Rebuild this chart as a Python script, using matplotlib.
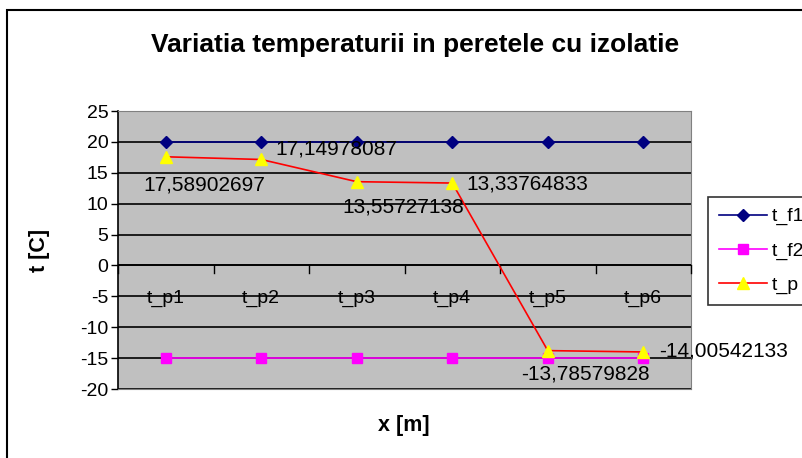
import matplotlib
matplotlib.use("Agg")
import matplotlib.pyplot as plt
from matplotlib.patches import Rectangle

plt.rcParams['font.family'] = ['Liberation Sans', 'DejaVu Sans']
plt.rcParams['axes.unicode_minus'] = False

# date
categorii = ["t_p1", "t_p2", "t_p3", "t_p4", "t_p5", "t_p6"]
t_f1 = [20, 20, 20, 20, 20, 20]
t_f2 = [-15, -15, -15, -15, -15, -15]
t_p = [17.58902697, 17.14978087, 13.55727138, 13.33764833, -13.78579828, -14.00542133]
# pozitia etichetelor (offset in pixeli)
offs = [(39, -28), (75, 10), (47, -25), (75, -1), (38, -23), (80, 1)]

fig = plt.figure(figsize=(8.02, 4.58), dpi=100)
fig.patches.append(Rectangle((7 / 802, -0.1), 1.0, (458 - 10) / 458 + 0.1,
                             transform=fig.transFigure, fill=False,
                             edgecolor='black', linewidth=1.5))
ax = fig.add_axes([118 / 802, (458 - 389) / 458, (691 - 118) / 802, (389 - 111) / 458])
ax.set_facecolor('#C0C0C0')

x = list(range(len(categorii)))
ax.plot(x, t_f1, color='#000080', marker='D', markersize=6, linewidth=1.2, label='t_f1', zorder=4)
ax.plot(x, t_f2, color='#FF00FF', marker='s', markersize=7, linewidth=1.2, label='t_f2', zorder=4)
ax.plot(x, t_p, color='#FF0000', marker='^', markersize=9, markerfacecolor='#FFFF00',
        markeredgecolor='#FFFF00', linewidth=1.2, label='t_p', zorder=5)

for xi, v, o in zip(x, t_p, offs):
    ax.annotate(f"{v:.8f}".replace('.', ','), (xi, v), xytext=o, textcoords='offset pixels',
                ha='center', va='center', fontsize=15, zorder=6, annotation_clip=False)

ax.set_xlim(-0.5, 5.5)
ax.set_ylim(-20, 25)
ax.set_yticks(range(-20, 30, 5))
ax.yaxis.grid(True, color='black', linewidth=1.2)
ax.set_axisbelow(True)
ax.tick_params(axis='y', labelsize=14, length=5, width=1, direction='out', pad=2)

# axa x trece prin 0
ax.set_xticks([])
ax.axhline(0, color='black', linewidth=1.2, zorder=3)
for b in [-0.5, 0.5, 1.5, 2.5, 3.5, 4.5, 5.5]:
    ax.plot([b, b], [0, -1.2], color='black', linewidth=1, zorder=3, clip_on=False)
for xi, c in zip(x, categorii):
    ax.text(xi, -5.3, c, ha='center', va='center', fontsize=14, zorder=6)

for s in ['top', 'right', 'bottom']:
    ax.spines[s].set_color('#808080')
ax.spines['left'].set_color('black')
ax.spines['left'].set_linewidth(1.2)

fig.text(415 / 802, 1 - 45 / 458, "Variatia temperaturii in peretele cu izolatie",
         ha='center', va='center', fontsize=19, fontweight='bold')
fig.text(40 / 802, 1 - 250 / 458, "t [C]", ha='center', va='center', rotation=90,
         fontsize=15.5, fontweight='bold')
fig.text(404 / 802, 1 - 425 / 458, "x [m]", ha='center', va='center',
         fontsize=15.5, fontweight='bold')

leg = fig.legend(loc='upper left', bbox_to_anchor=(708 / 802, 1 - 197 / 458),
                 frameon=True, fancybox=False, edgecolor='black', fontsize=14,
                 handlelength=2.5, labelspacing=0.85, borderaxespad=0, borderpad=0.55,
                 handletextpad=0.25)
leg.get_frame().set_linewidth(1.2)

fig.savefig("out.png", dpi=100)
